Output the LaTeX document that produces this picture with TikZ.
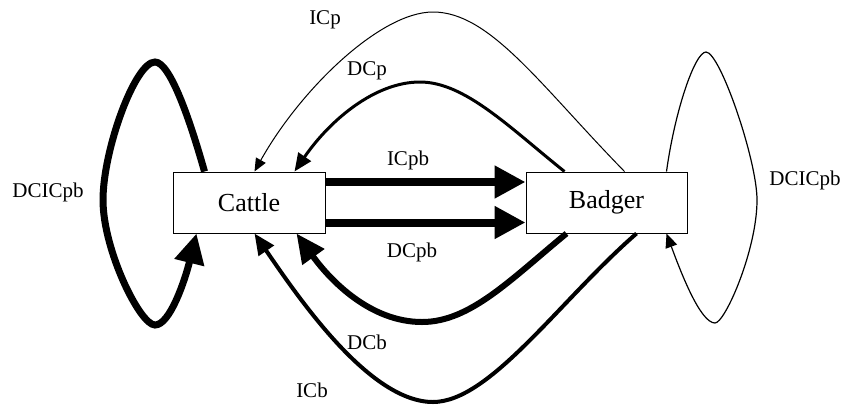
\documentclass[tikz,border=0pt]{standalone}
\usepackage{fontspec}
\setmainfont{Liberation Serif}
\usetikzlibrary{arrows.meta}
\begin{document}
\begin{tikzpicture}[x=1pt,y=-1pt,
  box/.style={draw,line width=1pt,inner sep=0pt,minimum height=61pt,font=\fontsize{26}{30}\selectfont},
  lbl/.style={font=\fontsize{21}{24}\selectfont,inner sep=0pt},
  edge/.style={draw,line join=round}]
\useasboundingbox (0,0) rectangle (842,405);
\node[box,minimum width=152pt] (cattle) at (249,202.5) {Cattle};
\node[box,minimum width=161pt] (badger) at (606.5,202.5) {Badger};
% straight arrows
\draw[line width=8pt,-{Triangle[length=31pt,width=31pt]}] ([yshift=20.5pt]cattle.east) -- ([yshift=20.5pt]badger.west);
\draw[line width=8pt,-{Triangle[length=31pt,width=31pt]}] ([yshift=-20pt]cattle.east) -- ([yshift=-20pt]badger.west);
% DCp
\draw[line width=3pt,-{Triangle[length=18pt,width=15pt]}] ([xshift=39pt]badger.north west)
  .. controls (510,128) and (465,82) .. (420,82)
  .. controls (375,82) and (330,120) .. ([xshift=122pt]cattle.north west);
% ICp
\draw[line width=1pt,-{Triangle[length=13pt,width=11pt]}] ([xshift=99pt]badger.north west)
  .. controls (540,85) and (490,12) .. (433,12)
  .. controls (380,12) and (300,90) .. ([xshift=82pt]cattle.north west);
% DCb
\draw[line width=6pt,-{Triangle[length=29pt,width=26pt]}] ([xshift=41pt]badger.south west)
  .. controls (510,280) and (470,322) .. (422,322)
  .. controls (370,322) and (330,280) .. ([xshift=124pt]cattle.south west);
% ICb
\draw[line width=4pt,-{Triangle[length=21pt,width=18pt]}] ([xshift=111pt]badger.south west)
  .. controls (560,300) and (490,402) .. (433,402)
  .. controls (370,402) and (300,300) .. ([xshift=82pt]cattle.south west);
% left self loop
\draw[line width=7pt,-{Triangle[length=30pt,width=29pt]}] ([xshift=32pt]cattle.north west)
  .. controls (190,120) and (170,62) .. (155,62)
  .. controls (135,62) and (103,150) .. (103,200)
  .. controls (103,250) and (140,325) .. (155,325)
  .. controls (170,325) and (185,280) .. ([xshift=24pt]cattle.south west);
% right self loop
\draw[line width=1.2pt,-{Triangle[length=14pt,width=12pt]}] ([xshift=141pt]badger.north west)
  .. controls (675,110) and (695,52) .. (706,52)
  .. controls (720,52) and (757,160) .. (757,200)
  .. controls (757,250) and (725,323) .. (715,323)
  .. controls (700,323) and (680,270) .. ([xshift=141pt]badger.south west);
% labels
\node[lbl] (l1) at (325,20) {ICp};
\node[lbl] (l2) at (367,71) {DCp};
\node[lbl] (l3) at (408,160) {ICpb};
\node[lbl] (l4) at (412,252) {DCpb};
\node[lbl] (l5) at (367,342) {DCb};
\node[lbl] (l6) at (312,390) {ICb};
\node[lbl] (l7) at (48,192) {DCICpb};
\node[lbl] (l8) at (805,180) {DCICpb};
\end{tikzpicture}
\end{document}
